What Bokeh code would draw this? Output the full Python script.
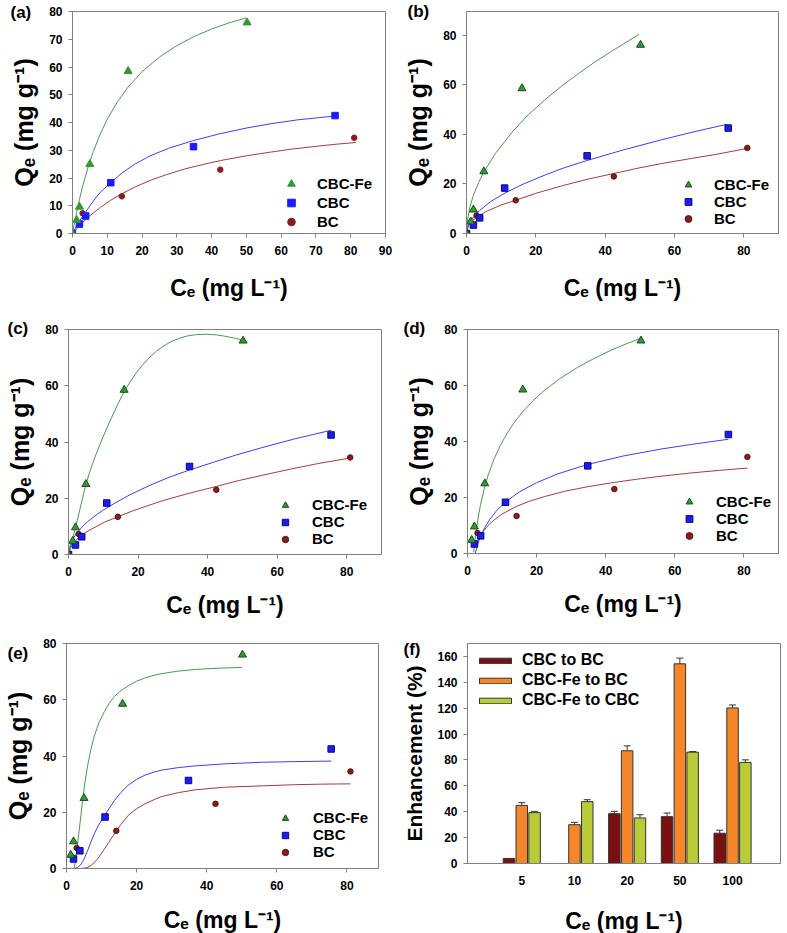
import numpy as np
from bokeh.plotting import figure
from bokeh.models import (ColumnDataSource, Range1d, FixedTicker, Legend, LegendItem,
                          Whisker, TeeHead)
from bokeh.layouts import column, row
from bokeh.embed import file_html
from bokeh.resources import INLINE

FONT = "Liberation Sans"
GRAY = "#808080"

# ---------------- experimental data (same in panels a-e) ----------------
series_names = ["CBC-Fe", "CBC", "BC"]
fe_ce = [0, 1.2, 2.0, 5.0, 16.0, 50.2]
fe_qe = [0, 4.8, 9.6, 25.0, 58.5, 76.0]
cbc_ce = [0, 2.0, 3.8, 11.0, 34.8, 75.5]
cbc_qe = [0, 3.4, 6.3, 18.3, 31.3, 42.5]
bc_ce = [0, 2.9, 14.2, 42.5, 81.0]
bc_qe = [0, 7.3, 13.4, 23.0, 34.5]

# ---------------- fitted curves ----------------
# (a)
a_fe_x = [0, 0.5, 1, 2, 3, 4.6, 6, 8, 10, 13, 16, 20, 25, 30, 35, 40, 45, 50]
a_fe_y = [0, 3.4, 6.5, 12.3, 17.4, 24.4, 29.6, 35.9, 41.2, 47.6, 52.8, 58.3, 63.6, 67.7, 71.0, 73.7, 75.9, 77.7]
a_cbc_x = [0, 1.5, 3.4, 6, 8, 10.8, 14, 17.8, 22, 27.6, 34.8, 42.2, 50, 56.8, 65, 75.2]
a_cbc_y = [0, 3.5, 7.1, 11.7, 14.9, 18.0, 21.6, 24.9, 27.8, 30.7, 33.5, 35.9, 38.0, 39.5, 41.0, 42.3]
a_bc_x = [0, 1.5, 3, 5, 8, 11, 14, 18, 22.7, 27, 32.4, 37, 42.6, 50, 56.8, 63, 70, 76, 81.5]
a_bc_y = [0, 2.1, 4.1, 6.4, 9.4, 12.0, 14.2, 16.8, 19.3, 21.2, 23.3, 24.7, 26.3, 28.0, 29.3, 30.4, 31.4, 32.2, 32.8]
# (b)
b_fe_x = [0, 0.3, 1, 2, 3.5, 5, 8.3, 13.1, 17.9, 22.7, 27.5, 32.3, 37.1, 41.9, 49.8]
b_fe_y = [0, 5.6, 10.8, 15.4, 20.5, 24.8, 32.2, 40.8, 48.0, 54.0, 59.5, 64.5, 69.2, 73.5, 80.3]
b_cbc_x = [0, 0.5, 1.5, 3.8, 7, 11.1, 16, 22.7, 28, 34.7, 45, 56.3, 65, 75]
b_cbc_y = [0, 3.3, 5.8, 9.3, 12.9, 16.3, 19.7, 23.6, 26.4, 29.4, 33.6, 37.8, 40.8, 44.0]
b_bc_x = [0, 0.5, 1.5, 3, 6, 10, 14.2, 20, 28, 35, 42.5, 50, 56.3, 65, 72, 81]
b_bc_y = [0, 3.0, 4.9, 6.7, 9.1, 11.5, 13.4, 16.2, 19.4, 21.9, 24.2, 26.5, 28.2, 30.3, 31.9, 34.3]
# (c)
c_fe_x = [0, 1.2, 1.9, 3, 4.8, 6, 7.9, 10, 11.8, 14, 15.8, 17.5, 19.5, 21.5, 23.4, 25.3, 27.2,
          29.5, 32.1, 34.5, 36.9, 40, 42.5, 44.6, 47.5, 50.2]
c_fe_y = [0, 5.2, 9.0, 14.6, 24.0, 29.0, 35.6, 42.0, 47.1, 53.0, 57.4, 61.0, 64.6, 67.7, 70.2, 72.3, 74.0,
          75.7, 77.0, 77.8, 78.2, 78.3, 78.1, 77.7, 77.0, 76.2]
c_cbc_x = [0, 0.5, 1.2, 2, 3.6, 5.5, 7.9, 10, 12.8, 17.6, 23.4, 29, 34.7, 41.7, 48, 56.2, 65, 75.6]
c_cbc_y = [0, 3.4, 5.4, 6.9, 9.4, 11.7, 14.0, 15.8, 17.9, 21.2, 24.6, 27.5, 30.0, 32.8, 35.3, 38.2, 41.1, 44.2]
c_bc_x = [0, 0.5, 1, 2, 2.9, 5, 7.9, 10.5, 14.2, 18, 22.4, 27, 32.1, 37, 42.5, 49, 56.2, 64, 72, 81]
c_bc_y = [0, 2.2, 3.2, 4.7, 6.0, 7.9, 9.9, 11.6, 13.4, 15.3, 17.2, 19.1, 20.9, 22.5, 24.2, 26.3, 28.3, 30.4, 32.4, 34.3]
# (d)
d_fe_x = [1.8, 2.0, 2.4, 2.8, 3.3, 3.8, 4.8, 6, 7.7, 9.5, 11.6, 13.5, 15.9, 19, 22.2, 27, 31.9, 36.7, 41.5, 46, 50.2]
d_fe_y = [0.4, 2.8, 7.0, 10.5, 14.3, 17.6, 22.9, 28.1, 33.8, 38.6, 43.2, 46.7, 50.5, 54.6, 58.2, 62.7, 66.5, 69.7, 72.6, 74.9, 76.9]
d_cbc_x = [2.25, 2.6, 3.2, 3.9, 5, 6.5, 8.5, 11.1, 15, 20, 26, 34.8, 45, 56, 65, 75.5]
d_cbc_y = [0, 1.7, 4.1, 6.4, 9.3, 12.3, 15.4, 18.5, 22.0, 25.3, 28.4, 31.8, 34.8, 37.3, 39.0, 40.8]
d_bc_x = [2.2, 3, 3.5, 4.5, 6, 7.7, 10, 14.3, 18, 22.2, 28, 35, 42.5, 50, 56, 65, 73, 81]
d_bc_y = [2.2, 4.6, 5.8, 7.8, 10.1, 12.0, 14.1, 16.9, 18.7, 20.3, 22.2, 23.9, 25.4, 26.7, 27.6, 28.8, 29.7, 30.5]
# (e)
e_fe_x = [2.2, 2.6, 3.0, 3.6, 4.1, 4.6, 5.3, 6, 6.9, 7.9, 9.3, 10.8, 12.2, 13.7, 15.5, 17.6, 20, 22.4,
          25, 27.2, 32, 36.9, 43, 50]
e_fe_y = [0, 3.5, 7.3, 13.3, 18.8, 24.4, 31.0, 36.4, 42.0, 47.0, 52.0, 55.8, 58.8, 61.2, 63.2, 65.0, 66.6, 67.8,
          68.7, 69.3, 70.2, 70.8, 71.2, 71.5]
e_cbc_x = [2.0, 3, 4, 5, 6, 7, 8, 9, 10.7, 12.2, 13.7, 15.5, 17.6, 20, 22.4, 25, 27.2, 32, 36.9, 45, 56.2, 65, 75.5]
e_cbc_y = [0, 0.3, 1.2, 3.3, 6.3, 9.6, 12.5, 15.1, 18.6, 21.4, 24.2, 27.0, 29.6, 31.7, 33.2, 34.3, 35.0, 35.9,
           36.5, 37.2, 37.8, 38.0, 38.2]
e_bc_x = [3.8, 5, 6, 7, 7.9, 9, 10, 10.8, 12, 13, 14, 15.5, 17.6, 20, 22.4, 25, 27.2, 32, 36.9, 45, 56.2, 65, 73, 81]
e_bc_y = [0, 0.1, 0.4, 1.1, 2.1, 3.6, 5.4, 6.9, 9.1, 11.1, 13.0, 15.6, 18.9, 21.3, 23.0, 24.5, 25.6, 27.0,
          28.0, 28.9, 29.4, 29.8, 30.0, 30.1]

# ---------------- panel (f) data ----------------
ce_levels = ["5", "10", "20", "50", "100"]
bar_names = ["CBC to BC", "CBC-Fe to BC", "CBC-Fe to CBC"]
cbc_to_bc = [3.9, np.nan, 38.5, 36.2, 23.4]
cbc_to_bc_err = [np.nan, np.nan, 1.8, 2.8, 2.3]
fe_to_bc = [44.9, 30.0, 87.1, 154.3, 120.2]
fe_to_bc_err = [2.1, 1.8, 3.8, 4.4, 2.3]
fe_to_cbc = [39.3, 47.8, 35.2, 86.0, 78.1]
fe_to_cbc_err = [1.0, 1.5, 2.5, 0.5, 2.0]

# ---------------- styling ----------------
C_FE, C_FE_L, C_FE_E = "#2f9a2f", "#4a9a4a", "#1d4d1d"
C_CBC, C_CBC_L, C_CBC_E = "#1a1aff", "#3c3cff", "#0a0a70"
C_BC, C_BC_L, C_BC_E = "#8b1c1c", "#a83a3a", "#5a1010"
BAR_COLORS = ["#7b1010", "#f5862a", "#b9cc38"]

XLAB = "C\u2091 (mg L\u207b\u00b9)"
YLAB = "Q\u2091 (mg g\u207b\u00b9)"


def style_axes(p, xstand, ystand, xlab, ylab):
    p.xaxis.axis_label = xlab
    p.yaxis.axis_label = ylab
    for ax in (p.xaxis[0], p.yaxis[0]):
        ax.axis_line_color = GRAY
        ax.major_tick_line_color = GRAY
        ax.major_tick_out = 4
        ax.major_tick_in = 0
        ax.minor_tick_line_color = None
        ax.major_label_text_font = FONT
        ax.major_label_text_font_size = "12px"
        ax.major_label_text_font_style = "bold"
        ax.major_label_text_color = "black"
        ax.axis_label_text_font = FONT
        ax.axis_label_text_font_style = "bold"
        ax.axis_label_text_color = "black"
    p.xaxis[0].major_label_standoff = 8
    p.yaxis[0].major_label_standoff = 6
    p.xaxis[0].axis_label_text_font_size = "23px"
    p.yaxis[0].axis_label_text_font_size = "25px"
    p.xaxis[0].axis_label_standoff = xstand
    p.yaxis[0].axis_label_standoff = ystand
    p.xgrid.visible = False
    p.ygrid.visible = False
    p.outline_line_color = GRAY
    p.outline_line_width = 1


def make_fig(g, xr, yr, letter, tag):
    p = figure(frame_width=g["fw"], frame_height=g["fh"],
               min_border_left=g["bl"], min_border_top=g["bt"],
               min_border_right=g["br"], min_border_bottom=g["bb"],
               x_range=Range1d(*xr), y_range=Range1d(*yr),
               output_backend="svg", toolbar_location=None,
               background_fill_color="white", border_fill_color="white",
               title=f"({letter})")
    # panel tag placed left of the frame, partly overlapping the frame's top edge
    dx, d = tag
    p.title.align = "left"
    p.title.vertical_align = "bottom"
    p.title.offset = dx
    p.title.standoff = -2 * d
    p.title.text_font = FONT
    p.title.text_font_size = "17px"
    p.title.text_font_style = "bold"
    p.title.text_color = "black"
    return p


def iso_panel(letter, g, xr, yr, xticks, yticks, curves, leg, tag, start, edged, xstand):
    p = make_fig(g, xr, yr, letter, tag)
    style_axes(p, xstand, 8, XLAB, YLAB)
    p.xaxis[0].ticker = FixedTicker(ticks=xticks)
    p.yaxis[0].ticker = FixedTicker(ticks=yticks)
    (fx, fy), (cx, cy), (bx, by) = curves
    p.line(bx, by, line_color=C_BC_L, line_width=1)
    p.line(cx, cy, line_color=C_CBC_L, line_width=1)
    p.line(fx, fy, line_color=C_FE_L, line_width=1)
    r_bc = p.scatter(bc_ce[start:], bc_qe[start:], marker="circle", size=5.5,
                     fill_color=C_BC, line_color=C_BC_E if edged else C_BC)
    r_cbc = p.scatter(cbc_ce[start:], cbc_qe[start:], marker="square", size=6.5,
                      fill_color=C_CBC, line_color=C_CBC_E if edged else C_CBC)
    r_fe = p.scatter(fe_ce[start:], fe_qe[start:], marker="triangle", size=8,
                     fill_color=C_FE, line_color=C_FE_E if edged else C_FE)
    lx, ly, rh, stand = leg
    legend = Legend(items=[LegendItem(label=series_names[0], renderers=[r_fe]),
                           LegendItem(label=series_names[1], renderers=[r_cbc]),
                           LegendItem(label=series_names[2], renderers=[r_bc])],
                    location=(lx, ly), orientation="vertical", padding=0, margin=0, spacing=0,
                    glyph_width=20, glyph_height=rh, label_height=rh, label_standoff=stand,
                    label_text_font=FONT, label_text_font_size="15px", label_text_font_style="bold",
                    label_text_color="black", border_line_alpha=0, background_fill_alpha=0)
    p.add_layout(legend)
    return p


# figure geometry (frames placed as in the reference; page origin = figure origin)
GA = dict(fw=313, fh=222, bl=72, bt=11, br=15, bb=87)
GB = dict(fw=312, fh=222, bl=66, bt=11, br=7, bb=87)
GC = dict(fw=313, fh=225, bl=68, bt=9, br=19, bb=79)
GD = dict(fw=311, fh=224, bl=67, bt=9, br=7, bb=80)
GE = dict(fw=312, fh=225, bl=66, bt=10, br=22, bb=64)
GF = dict(fw=313, fh=220, bl=67, bt=10, br=5, bb=69)

x10 = list(range(0, 91, 10))
x20 = list(range(0, 81, 20))
y10 = list(range(0, 81, 10))
y20 = list(range(0, 81, 20))

pa = iso_panel("a", GA, (0, 90), (0, 80), x10, y10,
               [(a_fe_x, a_fe_y), (a_cbc_x, a_cbc_y), (a_bc_x, a_bc_y)],
               (209, 2, 19, 16), (-62, 10), 0, False, 17)
pb = iso_panel("b", GB, (0, 90), (0, 89.5), x20, y20,
               [(b_fe_x, b_fe_y), (b_cbc_x, b_cbc_y), (b_bc_x, b_bc_y)],
               (212, 6, 17, 16), (-59, 9), 0, True, 17)
pc = iso_panel("c", GC, (0, 90), (0, 80), x20, y20,
               [(c_fe_x, c_fe_y), (c_cbc_x, c_cbc_y), (c_bc_x, c_bc_y)],
               (207, 7, 16, 17), (-61, 8), 0, True, 13)
pd = iso_panel("d", GD, (0, 90), (0, 80), x20, y20,
               [(d_fe_x, d_fe_y), (d_cbc_x, d_cbc_y), (d_bc_x, d_bc_y)],
               (212, 9, 17, 17), (-64, 8), 1, True, 13)
pe = iso_panel("e", GE, (0, 89), (0, 80), x20, y20,
               [(e_fe_x, e_fe_y), (e_cbc_x, e_cbc_y), (e_bc_x, e_bc_y)],
               (209, 8, 16, 18), (-59, 19), 1, True, 14)

# ---------------- panel (f) ----------------
fxr, fyr = (-0.03, 5.91), (0, 170)
pf = make_fig(GF, fxr, fyr, "f", (-64, 15))
style_axes(pf, 20, 8, XLAB, "Enhancement (%)")
pf.yaxis[0].axis_label_text_font_size = "21px"
pos = np.arange(1, len(ce_levels) + 1)
pf.xaxis[0].ticker = FixedTicker(ticks=[int(k) for k in pos])
pf.xaxis[0].major_label_overrides = {int(k): lab for k, lab in zip(pos, ce_levels)}
pf.xaxis[0].major_tick_out = 0
pf.xaxis[0].major_label_standoff = 12
pf.yaxis[0].ticker = FixedTicker(ticks=list(range(0, 161, 20)))
bw, off = 0.218, 0.243
bar_vals = [cbc_to_bc, fe_to_bc, fe_to_cbc]
bar_errs = [cbc_to_bc_err, fe_to_bc_err, fe_to_cbc_err]
bar_rs = []
for i, (vals, errs, col) in enumerate(zip(bar_vals, bar_errs, BAR_COLORS)):
    xs = pos + (i - 1) * off
    v = np.array(vals, dtype=float)
    e = np.array(errs, dtype=float)
    src = ColumnDataSource(dict(x=xs, top=v, upper=v + e))
    r = pf.vbar(x="x", top="top", width=bw, bottom=0, source=src, fill_color=col,
                line_color="#333333", line_width=1)
    bar_rs.append(r)
    pf.add_layout(Whisker(source=src, base="x", lower="top", upper="upper", dimension="height",
                          line_color="#333333", line_width=1,
                          upper_head=TeeHead(size=7, line_color="#333333", line_width=1),
                          lower_head=None))
legf = Legend(items=[LegendItem(label=n, renderers=[r]) for n, r in zip(bar_names, bar_rs)],
              location=(8, 153), orientation="vertical", padding=0, margin=0, spacing=0,
              glyph_width=40, glyph_height=7, label_height=20, label_standoff=7,
              label_text_font=FONT, label_text_font_size="16px", label_text_font_style="bold",
              label_text_color="black", border_line_alpha=0, background_fill_alpha=0)
pf.add_layout(legf)

layout = column(row(pa, pb), row(pc, pd), row(pe, pf))
open("out.html", "w").write(file_html(layout, INLINE))
